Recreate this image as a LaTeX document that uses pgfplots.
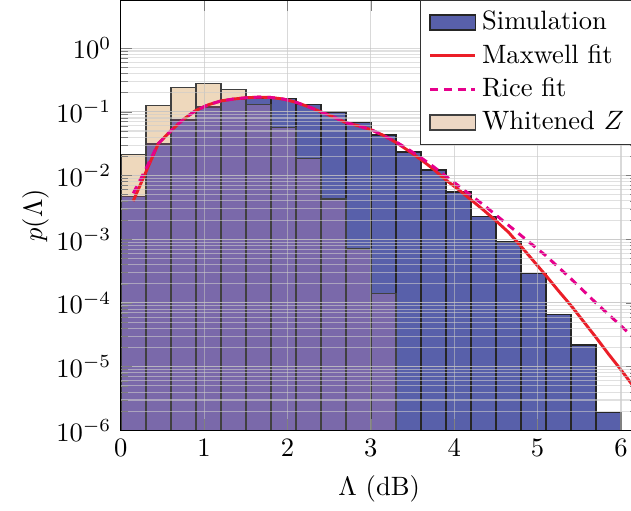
\documentclass[border=0pt]{standalone}
\usepackage{pgfplots}
\pgfplotsset{compat=1.18}
\definecolor{simblue}{RGB}{88,96,170}
\definecolor{wtan}{RGB}{201,126,170}
\definecolor{wfix}{RGB}{255,255,196}
\definecolor{wleg}{RGB}{236,215,196}
\definecolor{ricepink}{RGB}{230,0,140}
\definecolor{maxred}{RGB}{235,30,40}
\begin{document}
\begin{tikzpicture}
\begin{axis}[
  scale only axis, width=194.7pt, height=162.1pt,
  xmin=0, xmax=6.2, ymin=1e-6, ymax=5.68,
  ymode=log, log origin=infty,
  xtick={0,1,2,3,4,5,6},
  ytick={1e-6,1e-5,1e-4,1e-3,1e-2,1e-1,1},
  grid=both,
  major grid style={black!25, opacity=0.6},
  minor grid style={black!20, opacity=0.6},
  axis on top,
  xlabel={$\Lambda$ (dB)}, ylabel={$p(\Lambda)$},
  ylabel style={yshift=-4pt},
  legend style={at={(1,1)}, anchor=north east, draw=black!80, fill=white, row sep=0pt},
  legend cell align=left,
]
\addplot[ybar interval, area legend, fill=simblue, draw=black!85, line width=0.6pt] coordinates {
(0,0.0047) (0.3,0.0315) (0.6,0.074) (0.9,0.12) (1.2,0.155) (1.5,0.161) (1.8,0.161)
(2.1,0.131) (2.4,0.099) (2.7,0.068) (3.0,0.043) (3.3,0.0233) (3.6,0.0121) (3.9,0.0055)
(4.2,0.00229) (4.5,9.1e-4) (4.8,2.9e-4) (5.1,6.6e-5) (5.4,2.2e-5) (5.7,1.9e-6) (6.0,1.9e-6)
};
\addlegendentry{Simulation}
\addplot[ybar interval, forget plot, fill=wtan, fill opacity=0.3, draw=black!75, line width=0.6pt] coordinates {
(0,0.0214) (0.3,0.126) (0.6,0.24) (0.9,0.278) (1.2,0.224) (1.5,0.13) (1.8,0.057)
(2.1,0.0185) (2.4,0.0043) (2.7,7.0e-4) (3.0,1.4e-4) (3.3,1.4e-4)
};
\addplot[ybar interval, forget plot, fill=wfix, draw=none, blend mode=darken] coordinates {
(0,0.0214) (0.3,0.126) (0.6,0.24) (0.9,0.278) (1.2,0.224) (1.5,0.13) (1.8,0.057)
(2.1,0.0185) (2.4,0.0043) (2.7,7.0e-4) (3.0,1.4e-4) (3.3,1.4e-4)
};
\addplot[maxred, line width=1.1pt] coordinates {
(0.15,0.00398) (0.30,0.01122) (0.45,0.0316) (0.60,0.0501) (0.75,0.0759) (0.90,0.1047)
(1.05,0.1288) (1.20,0.1479) (1.35,0.1585) (1.50,0.1660) (1.65,0.1698) (1.80,0.1679)
(1.95,0.1585) (2.10,0.1413) (2.25,0.1202) (2.40,0.1000) (2.55,0.0832) (2.70,0.0676)
(2.85,0.0603) (3.00,0.0525) (3.15,0.0427) (3.30,0.0331) (3.45,0.0245) (3.60,0.0178)
(3.75,0.0126) (3.90,0.00851) (4.05,0.00603) (4.20,0.00417) (4.35,0.00288) (4.50,0.00195)
(4.65,0.00129) (4.80,7.76e-4) (4.95,4.57e-4) (5.10,2.69e-4) (5.25,1.55e-4) (5.40,9.12e-5)
(5.55,5.13e-5) (5.70,2.88e-5) (5.85,1.58e-5) (6.00,8.91e-6) (6.15,4.90e-6) (6.30,2.6e-6)
};
\addlegendentry{Maxwell fit}
\addplot[ricepink, line width=1.1pt, dash pattern=on 3pt off 2.2pt] coordinates {
(0.15,0.00525) (0.30,0.0126) (0.45,0.0316) (0.60,0.0501) (0.75,0.0759) (0.90,0.1047)
(1.05,0.1288) (1.20,0.1479) (1.35,0.1585) (1.50,0.1660) (1.65,0.1698) (1.80,0.1679)
(1.95,0.1585) (2.10,0.1413) (2.25,0.1202) (2.40,0.1000) (2.55,0.0832) (2.70,0.0676)
(2.85,0.0603) (3.00,0.0525) (3.15,0.0427) (3.30,0.0339) (3.45,0.0257) (3.60,0.0191)
(3.75,0.0138) (3.90,0.00977) (4.05,0.00692) (4.20,0.0049) (4.35,0.00347) (4.50,0.0024)
(4.65,0.00166) (4.80,0.00115) (4.95,7.94e-4) (5.10,5.50e-4) (5.25,3.63e-4) (5.40,2.40e-4)
(5.55,1.55e-4) (5.70,1.0e-4) (5.85,6.61e-5) (6.00,4.37e-5) (6.15,2.88e-5) (6.30,1.85e-5)
};
\addlegendentry{Rice fit}
\addlegendimage{area legend, fill=wleg, draw=black!75, line width=0.6pt}
\addlegendentry{Whitened $Z$}
\coordinate (clipE) at (axis cs:6.12,1e-6);
\end{axis}
\pgfresetboundingbox
\path[use as bounding box] ([xshift=-5pt]current axis.outer south west) rectangle (current axis.north -| clipE);
\end{tikzpicture}
\end{document}
